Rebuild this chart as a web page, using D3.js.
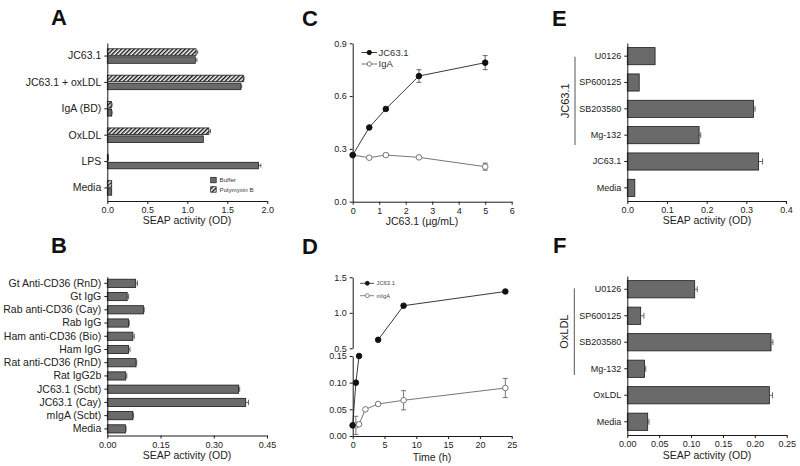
<!DOCTYPE html>
<html>
<head>
<meta charset="utf-8">
<script src="https://cdn.jsdelivr.net/npm/d3@7"></script>
<style>
  body { margin: 0; background: #fff; }
  svg { font-family: "Liberation Sans", Arial, Helvetica, sans-serif; }
</style>
</head>
<body>
<svg width="800" height="466"></svg>
<script>
// ---- panel A : SEAP activity, Buffer vs Polymyxin B ----
const aCats = ['JC63.1', 'JC63.1 + oxLDL', 'IgA (BD)', 'OxLDL', 'LPS', 'Media']
const aSeries = ['Polymyxin B', 'Buffer']
const aPolymyxin = [1.11, 1.70, 0.05, 1.27, 0.01, 0.055]
const aPolymyxinErr = [0.02, 0.01, 0.01, 0.02, 0.005, 0]
const aBuffer = [1.10, 1.67, 0.055, 1.20, 1.89, 0.055]
const aBufferErr = [0.02, 0.01, 0.005, 0, 0.03, 0]
const aTicks = [0, 0.5, 1.0, 1.5, 2.0]

// ---- panel B : antibodies ----
const bCats = ['Gt Anti-CD36 (RnD)', 'Gt IgG', 'Rab anti-CD36 (Cay)', 'Rab IgG', 'Ham anti-CD36 (Bio)', 'Ham IgG',
  'Rat anti-CD36 (RnD)', 'Rat IgG2b', 'JC63.1 (Scbt)', 'JC63.1 (Cay)', 'mIgA (Scbt)', 'Media']
const bVals = [0.080, 0.056, 0.102, 0.060, 0.072, 0.060, 0.081, 0.052, 0.370, 0.390, 0.072, 0.051]
const bErr = [0.005, 0.004, 0.002, 0.002, 0.004, 0.004, 0.002, 0.003, 0.003, 0.008, 0.002, 0.002]
const bTicks = [0, 0.15, 0.30, 0.45]

// ---- panel C : dose response ----
const cDose = [0, 0.625, 1.25, 2.5, 5]
const cJC = [0.265, 0.422, 0.527, 0.714, 0.79]
const cJCErr = [0, 0, 0, 0.036, 0.04]
const cIgA = [0.265, 0.25, 0.265, 0.252, 0.199]
const cIgAErr = [0, 0, 0, 0, 0.02]
const cXTicks = [0, 1, 2, 3, 4, 5, 6]
const cYTicks = [0, 0.3, 0.6, 0.9]

// ---- panel D : time course (broken y axis) ----
const dTimeJCLow = [0, 0.5, 1]
const dJCLow = [0.02, 0.10, 0.15]
const dTimeJCHigh = [4, 8, 24]
const dJCHigh = [0.62, 1.10, 1.30]
const dJCHighErr = [0, 0.02, 0.02]
const dTimeIgA = [0, 0.5, 1, 2, 4, 8, 24]
const dIgA = [0.02, 0.02, 0.022, 0.05, 0.06, 0.067, 0.09]
const dIgAErr = [0, 0.017, 0, 0, 0, 0.018, 0.018]
const dXTicks = [0, 5, 10, 15, 20, 25]
const dLowTicks = [0, 0.05, 0.10, 0.15]
const dHighTicks = [0.5, 1.0, 1.5]

// ---- panel E : JC63.1 + inhibitors ----
const eCats = ['U0126', 'SP600125', 'SB203580', 'Mg-132', 'JC63.1', 'Media']
const eVals = [0.070, 0.030, 0.318, 0.181, 0.331, 0.019]
const eErr = [0, 0, 0.004, 0.004, 0.01, 0]
const eTicks = [0, 0.1, 0.2, 0.3, 0.4]

// ---- panel F : OxLDL + inhibitors ----
const fCats = ['U0126', 'SP600125', 'SB203580', 'Mg-132', 'OxLDL', 'Media']
const fVals = [0.1057, 0.021, 0.2254, 0.027, 0.2228, 0.032]
const fErr = [0.004, 0.005, 0.003, 0.002, 0.005, 0.002]
const fTicks = [0, 0.05, 0.10, 0.15, 0.20, 0.25]

const barFill = '#6a6a6a'
const ink = '#1a1a1a'

const svg = d3.select('svg')

// hatch pattern for Polymyxin B
const defs = svg.append('defs')
defs.append('pattern')
  .attr('id', 'hatch')
  .attr('patternUnits', 'userSpaceOnUse')
  .attr('width', 3).attr('height', 3)
  .attr('patternTransform', 'rotate(45)')
  .call(p => {
    p.append('rect').attr('width', 3).attr('height', 3).attr('fill', '#fff')
    p.append('rect').attr('width', 1.4).attr('height', 3).attr('fill', '#111')
  })

function styleAxis(g, size) {
  g.attr('font-family', null).attr('font-size', null)
  g.selectAll('path.domain').attr('stroke', ink).attr('stroke-width', 1)
  g.selectAll('.tick line').attr('stroke', ink)
  g.selectAll('.tick text').attr('font-size', size).attr('fill', '#222')
}

function panelLetter(txt, x, y) {
  svg.append('text').attr('x', x).attr('y', y)
    .attr('font-size', 22).attr('font-weight', 'bold').attr('fill', '#111')
    .text(txt)
}

function axisTitle(txt, x, y) {
  svg.append('text').attr('x', x).attr('y', y)
    .attr('text-anchor', 'middle').attr('font-size', 10.5).attr('fill', '#222')
    .text(txt)
}

// horizontal error whisker with a cap
function hErr(g, x, yMid, v, e, capH) {
  if (!e) return
  g.append('line').attr('x1', x(v)).attr('x2', x(v + e)).attr('y1', yMid).attr('y2', yMid)
    .attr('stroke', '#444').attr('stroke-width', 0.8)
  g.append('line').attr('x1', x(v + e)).attr('x2', x(v + e)).attr('y1', yMid - capH).attr('y2', yMid + capH)
    .attr('stroke', '#444').attr('stroke-width', 0.8)
}

// simple horizontal bar panel
function barPanel(cfg) {
  const x = d3.scaleLinear().domain([cfg.ticks[0], cfg.ticks[cfg.ticks.length - 1]]).range([cfg.left, cfg.right])
  const y = d3.scaleBand().domain(cfg.cats).range([cfg.top, cfg.bottom]).paddingInner(cfg.pad).paddingOuter(cfg.pad / 2)
  const g = svg.append('g')

  cfg.cats.forEach((c, i) => {
    g.append('rect')
      .attr('x', x(0)).attr('y', y(c))
      .attr('width', x(cfg.vals[i]) - x(0)).attr('height', y.bandwidth())
      .attr('fill', barFill).attr('stroke', ink).attr('stroke-width', 0.8)
    hErr(g, x, y(c) + y.bandwidth() / 2, cfg.vals[i], cfg.errs[i], Math.min(3, y.bandwidth() / 3))
  })

  g.append('g').attr('transform', `translate(0,${cfg.bottom})`)
    .call(d3.axisBottom(x).tickValues(cfg.ticks).tickFormat(cfg.fmt).tickSize(3).tickSizeOuter(0))
    .call(a => styleAxis(a, 9))
  g.append('g').attr('transform', `translate(${cfg.left},0)`)
    .call(d3.axisLeft(y).tickSize(3).tickSizeOuter(0))
    .call(a => styleAxis(a, cfg.labelSize))
  return { x, y }
}

//////////////////////////////////////
// Panel A
//////////////////////////////////////
;(function () {
  const left = 107.3, right = 267.3, top = 43, bottom = 201
  const x = d3.scaleLinear().domain([0, 2]).range([left, right])
  const y = d3.scaleBand().domain(aCats).range([top, bottom]).paddingInner(0.45).paddingOuter(0.22)
  const ySub = d3.scaleBand().domain(aSeries).range([0, y.bandwidth()]).paddingInner(0.18)
  const g = svg.append('g')

  aCats.forEach((c, i) => {
    const rows = [
      { s: 'Polymyxin B', v: aPolymyxin[i], e: aPolymyxinErr[i], fill: 'url(#hatch)' },
      { s: 'Buffer', v: aBuffer[i], e: aBufferErr[i], fill: barFill }
    ]
    rows.forEach(r => {
      const yy = y(c) + ySub(r.s)
      g.append('rect').attr('x', x(0)).attr('y', yy)
        .attr('width', x(r.v) - x(0)).attr('height', ySub.bandwidth())
        .attr('fill', r.fill).attr('stroke', ink).attr('stroke-width', 0.8)
      hErr(g, x, yy + ySub.bandwidth() / 2, r.v, r.e, 2)
    })
  })

  g.append('g').attr('transform', `translate(0,${bottom})`)
    .call(d3.axisBottom(x).tickValues(aTicks).tickFormat(d3.format('.1f')).tickSize(3).tickSizeOuter(0))
    .call(a => styleAxis(a, 9))
  g.append('g').attr('transform', `translate(${left},0)`)
    .call(d3.axisLeft(y).tickSize(3).tickSizeOuter(0))
    .call(a => styleAxis(a, 10.5))

  // legend
  const legend = [{ s: 'Buffer', fill: barFill, y: 177.3 }, { s: 'Polymyxin B', fill: 'url(#hatch)', y: 186.7 }]
  legend.forEach(l => {
    g.append('rect').attr('x', 210.7).attr('y', l.y).attr('width', 5.5).attr('height', 5.5)
      .attr('fill', l.fill).attr('stroke', ink).attr('stroke-width', 0.7)
    g.append('text').attr('x', 219.5).attr('y', l.y + 5).attr('font-size', 6.2).attr('fill', '#333').text(l.s)
  })

  panelLetter('A', 51, 25)
  axisTitle('SEAP activity (OD)', 187, 224)
})()

//////////////////////////////////////
// Panel B
//////////////////////////////////////
barPanel({ cats: bCats, vals: bVals, errs: bErr, ticks: bTicks, fmt: d3.format('.2f'),
  left: 107.3, right: 267, top: 276.7, bottom: 435.5, pad: 0.38, labelSize: 10.5 })
panelLetter('B', 51, 253)
axisTitle('SEAP activity (OD)', 187, 459)

//////////////////////////////////////
// Panel C
//////////////////////////////////////
;(function () {
  const x = d3.scaleLinear().domain([0, 6]).range([352.7, 511.7])
  const y = d3.scaleLinear().domain([0, 0.9]).range([201.7, 43.3])
  const g = svg.append('g')
  const line = d3.line().x(d => x(d[0])).y(d => y(d[1]))

  const series = [
    { vals: cIgA, errs: cIgAErr, filled: false, color: '#666' },
    { vals: cJC, errs: cJCErr, filled: true, color: '#222' }
  ]
  series.forEach(s => {
    const pts = cDose.map((d, i) => [d, s.vals[i], s.errs[i]])
    g.append('path').attr('d', line(pts)).attr('fill', 'none').attr('stroke', s.color).attr('stroke-width', 0.9)
    pts.filter(p => p[2]).forEach(p => {
      g.append('line').attr('x1', x(p[0])).attr('x2', x(p[0])).attr('y1', y(p[1] - p[2])).attr('y2', y(p[1] + p[2]))
        .attr('stroke', '#444').attr('stroke-width', 0.8)
      ;[p[1] - p[2], p[1] + p[2]].forEach(v => g.append('line')
        .attr('x1', x(p[0]) - 2.5).attr('x2', x(p[0]) + 2.5).attr('y1', y(v)).attr('y2', y(v))
        .attr('stroke', '#444').attr('stroke-width', 0.8))
    })
    g.selectAll(null).data(pts).enter().append('circle')
      .attr('cx', d => x(d[0])).attr('cy', d => y(d[1])).attr('r', 2.8)
      .attr('fill', s.filled ? '#111' : '#fff').attr('stroke', s.filled ? '#111' : '#666').attr('stroke-width', 0.9)
  })

  g.append('g').attr('transform', 'translate(0,201.7)')
    .call(d3.axisBottom(x).tickValues(cXTicks).tickFormat(d3.format('d')).tickSize(3).tickSizeOuter(0))
    .call(a => styleAxis(a, 9))
  g.append('g').attr('transform', 'translate(352.7,0)')
    .call(d3.axisLeft(y).tickValues(cYTicks).tickFormat(d3.format('.1f')).tickSize(3).tickSizeOuter(0))
    .call(a => styleAxis(a, 9))

  // legend
  const legend = [{ s: 'JC63.1', filled: true, y: 52.5 }, { s: 'IgA', filled: false, y: 64 }]
  legend.forEach(l => {
    g.append('line').attr('x1', 361.5).attr('x2', 377).attr('y1', l.y).attr('y2', l.y)
      .attr('stroke', l.filled ? '#222' : '#666').attr('stroke-width', 0.9)
    g.append('circle').attr('cx', 369.3).attr('cy', l.y).attr('r', 2.2)
      .attr('fill', l.filled ? '#111' : '#fff').attr('stroke', l.filled ? '#111' : '#666').attr('stroke-width', 0.9)
    g.append('text').attr('x', 378.5).attr('y', l.y + 3.4).attr('font-size', 9.5).attr('fill', '#333').text(l.s)
  })

  panelLetter('C', 302, 26)
  axisTitle('JC63.1 (\u00b5g/mL)', 422, 225)
})()

//////////////////////////////////////
// Panel D (broken axis)
//////////////////////////////////////
;(function () {
  const x = d3.scaleLinear().domain([0, 25]).range([352.7, 511.7])
  const yLow = d3.scaleLinear().domain([0, 0.15]).range([436, 356])
  const yHigh = d3.scaleLinear().domain([0.5, 1.5]).range([348.3, 277.3])
  const g = svg.append('g')

  function drawSeries(ts, vals, errs, yS, filled) {
    const pts = ts.map((t, i) => [t, vals[i], errs ? errs[i] : 0])
    const color = filled ? '#222' : '#666'
    g.append('path').attr('d', d3.line().x(d => x(d[0])).y(d => yS(d[1]))(pts))
      .attr('fill', 'none').attr('stroke', color).attr('stroke-width', 0.9)
    pts.filter(p => p[2]).forEach(p => {
      g.append('line').attr('x1', x(p[0])).attr('x2', x(p[0])).attr('y1', yS(p[1] - p[2])).attr('y2', yS(p[1] + p[2]))
        .attr('stroke', '#555').attr('stroke-width', 0.8)
      ;[p[1] - p[2], p[1] + p[2]].forEach(v => g.append('line')
        .attr('x1', x(p[0]) - 2.5).attr('x2', x(p[0]) + 2.5).attr('y1', yS(v)).attr('y2', yS(v))
        .attr('stroke', '#555').attr('stroke-width', 0.8))
    })
    g.selectAll(null).data(pts).enter().append('circle')
      .attr('cx', d => x(d[0])).attr('cy', d => yS(d[1])).attr('r', 2.8)
      .attr('fill', filled ? '#111' : '#fff').attr('stroke', filled ? '#111' : '#666').attr('stroke-width', 0.9)
  }

  drawSeries(dTimeIgA, dIgA, dIgAErr, yLow, false)
  drawSeries(dTimeJCLow, dJCLow, null, yLow, true)
  drawSeries(dTimeJCHigh, dJCHigh, dJCHighErr, yHigh, true)

  g.append('g').attr('transform', 'translate(0,436)')
    .call(d3.axisBottom(x).tickValues(dXTicks).tickFormat(d3.format('d')).tickSize(3).tickSizeOuter(0))
    .call(a => styleAxis(a, 9))
  g.append('g').attr('transform', 'translate(352.7,0)')
    .call(d3.axisLeft(yLow).tickValues(dLowTicks).tickFormat(d3.format('.2f')).tickSize(3).tickSizeOuter(0))
    .call(a => styleAxis(a, 9))
  g.append('g').attr('transform', 'translate(352.7,0)')
    .call(d3.axisLeft(yHigh).tickValues(dHighTicks).tickFormat(d3.format('.1f')).tickSize(3).tickSizeOuter(0))
    .call(a => styleAxis(a, 9))

  // tiny legend
  const legend = [{ s: 'JC63.1', filled: true, y: 283.3 }, { s: 'mIgA', filled: false, y: 295.7 }]
  legend.forEach(l => {
    g.append('line').attr('x1', 360).attr('x2', 374).attr('y1', l.y).attr('y2', l.y)
      .attr('stroke', l.filled ? '#222' : '#666').attr('stroke-width', 0.8)
    g.append('circle').attr('cx', 367.3).attr('cy', l.y).attr('r', 2)
      .attr('fill', l.filled ? '#111' : '#fff').attr('stroke', l.filled ? '#111' : '#666').attr('stroke-width', 0.8)
    g.append('text').attr('x', 376.5).attr('y', l.y + 2).attr('font-size', 5.8).attr('fill', '#444').text(l.s)
  })

  panelLetter('D', 302, 254)
  axisTitle('Time (h)', 432, 461)
})()

//////////////////////////////////////
// Panels E and F
//////////////////////////////////////
barPanel({ cats: eCats, vals: eVals, errs: eErr, ticks: eTicks, fmt: d3.format('.1f'),
  left: 627.3, right: 786, top: 43, bottom: 201, pad: 0.35, labelSize: 9 })
panelLetter('E', 552, 26)
axisTitle('SEAP activity (OD)', 707, 224)

barPanel({ cats: fCats, vals: fVals, errs: fErr, ticks: fTicks, fmt: d3.format('.2f'),
  left: 627.3, right: 786.7, top: 276, bottom: 435, pad: 0.35, labelSize: 9 })
panelLetter('F', 553, 253)
axisTitle('SEAP activity (OD)', 707, 459)

// side brackets with rotated group labels
const brackets = [
  { label: 'JC63.1', x: 575, y1: 56.7, y2: 145 },
  { label: 'OxLDL', x: 574.3, y1: 288.3, y2: 375 }
]
brackets.forEach(b => {
  svg.append('line').attr('x1', b.x).attr('x2', b.x).attr('y1', b.y1).attr('y2', b.y2)
    .attr('stroke', '#444').attr('stroke-width', 0.9)
  svg.append('text')
    .attr('transform', `translate(${b.x - 6},${(b.y1 + b.y2) / 2}) rotate(-90)`)
    .attr('text-anchor', 'middle').attr('font-size', 11).attr('fill', '#222')
    .text(b.label)
})
</script>
</body>
</html>
